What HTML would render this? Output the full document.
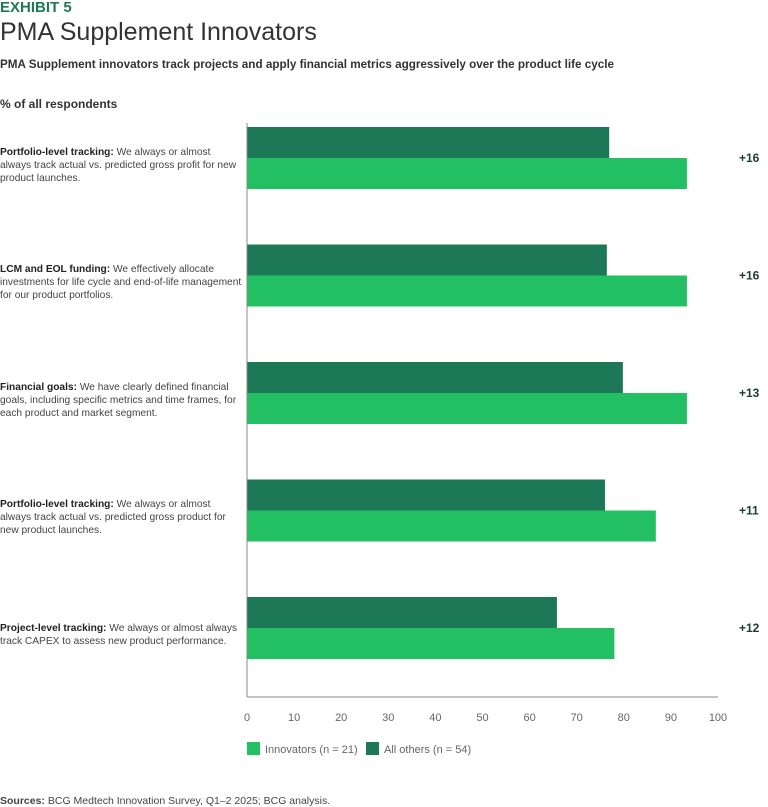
<!DOCTYPE html>
<html><head><meta charset="utf-8"><style>
body{margin:0;width:768px;height:807px;background:#fff;font-family:"Liberation Sans",sans-serif;color:#333;position:relative;overflow:hidden}
.abs{position:absolute}
.lbl{position:absolute;left:0;white-space:nowrap;font-size:10.2px;line-height:13px;color:#444}
.lbl b{color:#222}
</style></head><body>
<div class="abs" style="left:0;top:-1px;font-size:15px;font-weight:bold;color:#1e7a56">EXHIBIT 5</div>
<div class="abs" style="left:0;top:18px;font-size:25px;color:#333">PMA Supplement Innovators</div>
<div class="abs" style="left:0;top:58px;font-size:11.7px;font-weight:bold;color:#333">PMA Supplement innovators track projects and apply financial metrics aggressively over the product life cycle</div>
<div class="abs" style="left:0;top:97px;font-size:12px;font-weight:bold;color:#333">% of all respondents</div>
<div class="lbl" style="top:146px"><b>Portfolio-level tracking:</b> We always or almost<br>always track actual vs. predicted gross profit for new<br>product launches.</div>
<div class="lbl" style="top:263px"><b>LCM and EOL funding:</b> We effectively allocate<br>investments for life cycle and end-of-life management<br>for our product portfolios.</div>
<div class="lbl" style="top:381px"><b>Financial goals:</b> We have clearly defined financial<br>goals, including specific metrics and time frames, for<br>each product and market segment.</div>
<div class="lbl" style="top:498px"><b>Portfolio-level tracking:</b> We always or almost<br>always track actual vs. predicted gross product for<br>new product launches.</div>
<div class="lbl" style="top:622px"><b>Project-level tracking:</b> We always or almost always<br>track CAPEX to assess new product performance.</div>
<svg id="chart" class="abs" style="left:0;top:0" width="768" height="807"></svg>
<div class="abs" style="left:0;top:795px;font-size:10.5px;color:#444"><b>Sources:</b> BCG Medtech Innovation Survey, Q1–2 2025; BCG analysis.</div>
<script>
const categories=["Portfolio-level tracking (profit)","LCM and EOL funding","Financial goals","Portfolio-level tracking (product)","Project-level tracking"];
const allOthers=[76.9,76.4,79.8,76,65.8];
const innovators=[93.4,93.4,93.4,86.8,78];
const diffLabels=["+16","+16","+13","+11","+12"];
const ticks=[0,10,20,30,40,50,60,70,80,90,100];
const NS="http://www.w3.org/2000/svg";
const svg=document.getElementById('chart');
const x0=247,x1=718;
const x=v=>x0+(x1-x0)*v/100;
const groupTop=i=>127+i*117.5;
function mk(t,a){const e=document.createElementNS(NS,t);for(const k in a)e.setAttribute(k,a[k]);svg.appendChild(e);return e;}
categories.forEach((c,i)=>{
  const y=groupTop(i);
  const d=mk('rect',{x:x0,y:y,width:x(allOthers[i])-x0,height:31,fill:'#1d7858'});
  
  
  const l=mk('rect',{x:x0,y:y+31,width:x(innovators[i])-x0,height:31,fill:'#22c062'});
  
  
  const t=mk('text',{x:739,y:y+35,'font-size':12,'font-weight':'bold',fill:'#1f3d2e','font-family':'Liberation Sans'});
  t.textContent=diffLabels[i];
  
  
});
const ya=mk('line',{x1:x0,y1:123,x2:x0,y2:697,stroke:'#888','stroke-width':1});


const xa=mk('line',{x1:x0,y1:697,x2:x1,y2:697,stroke:'#888','stroke-width':1});


ticks.forEach(v=>{
  const t=mk('text',{x:x(v),y:721,'font-size':11,fill:'#666','text-anchor':'middle','font-family':'Liberation Sans'});
  t.textContent=v;
  
  
});
const legend=[["Innovators (n = 21)",'#22c062',247],["All others (n = 54)",'#1d7858',366]];
legend.forEach(([n,c,lx])=>{
  const r=mk('rect',{x:lx,y:742,width:13,height:13,fill:c});
  
  
  const t=mk('text',{x:lx+18,y:753,'font-size':11,fill:'#666','font-family':'Liberation Sans'});
  t.textContent=n;
  
  
});
</script>
</body></html>
